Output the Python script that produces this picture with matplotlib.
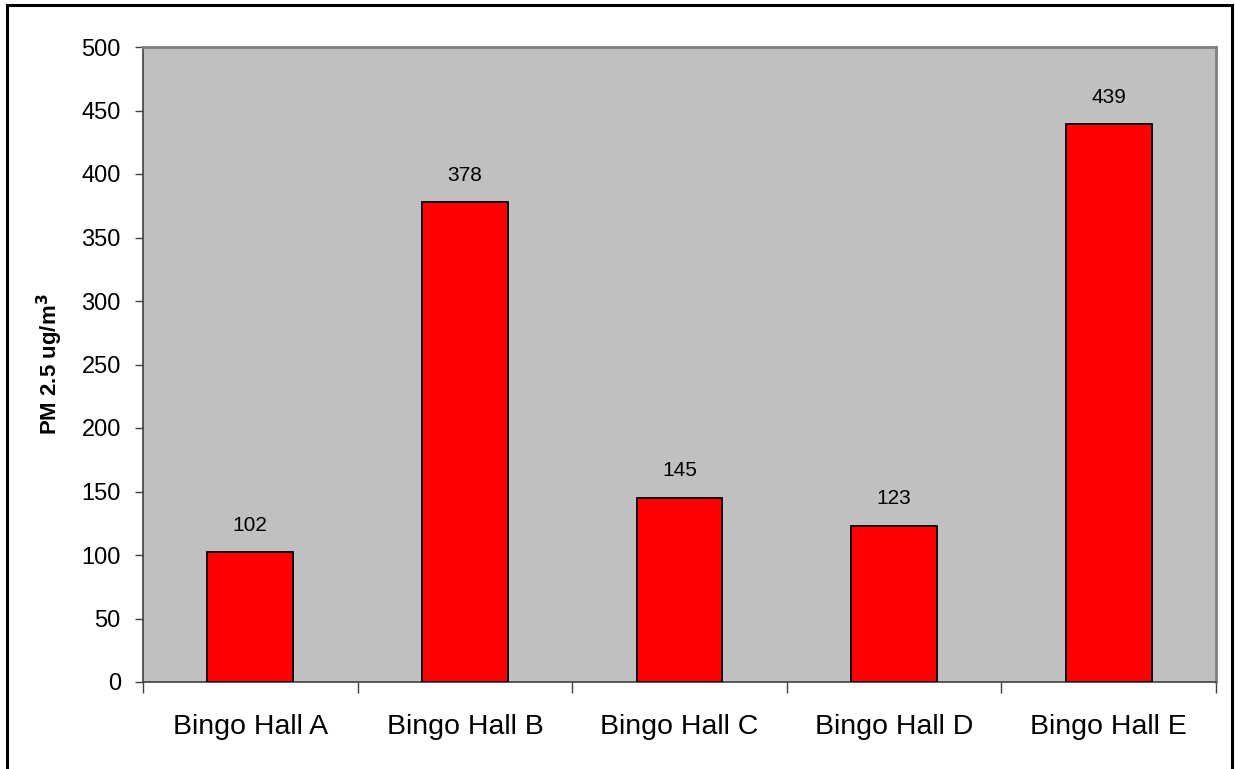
import matplotlib
matplotlib.use("Agg")
import matplotlib.pyplot as plt
from matplotlib.patches import Rectangle

categories = ["Bingo Hall A", "Bingo Hall B", "Bingo Hall C", "Bingo Hall D", "Bingo Hall E"]
values = [102, 378, 145, 123, 439]
yticks = [0, 50, 100, 150, 200, 250, 300, 350, 400, 450, 500]

plt.rcParams['font.family'] = ['Liberation Sans', 'DejaVu Sans']

W, H = 1235, 769
fig = plt.figure(figsize=(W / 100, H / 100), dpi=100)
ax = fig.add_axes([143 / W, 1 - 682 / H, (1216 - 143) / W, (682 - 47) / H])
ax.set_facecolor('#C0C0C0')

x = list(range(len(categories)))
bars = ax.bar(x, values, width=0.4, color='#FF0000', edgecolor='black', linewidth=1.3, zorder=3)
for xi, v in zip(x, values):
    ax.annotate(str(v), (xi, v), xytext=(0, 12.5), textcoords='offset points',
                ha='center', va='bottom', fontsize=15)

ax.set_xlim(-0.5, len(categories) - 0.5)
ax.set_ylim(0, 500)
ax.set_yticks(yticks)
ax.set_yticklabels([str(t) for t in yticks], fontsize=17)
ax.tick_params(axis='y', length=6, width=1, color='#404040', pad=10)

ax.set_xticks([i + 0.5 for i in range(-1, len(categories))])
ax.set_xticklabels([])
ax.tick_params(axis='x', length=8, width=1, color='#404040')
ax.set_xticks(x, minor=True)
ax.set_xticklabels(categories, minor=True, fontsize=20.5)
ax.tick_params(axis='x', which='minor', length=0, pad=23)

for s in ['left', 'bottom']:
    ax.spines[s].set_color('#404040')
    ax.spines[s].set_linewidth(1.2)
for s in ['top', 'right']:
    ax.spines[s].set_color('#808080')
    ax.spines[s].set_linewidth(2)

ax.set_ylabel(r'PM 2.5 ug/m$^\mathbf{3}$', fontsize=16, fontweight='bold', labelpad=12)

fig.patches.append(Rectangle((7 / W, -0.01), (1232 - 7) / W, 1 - 5 / H + 0.01,
                             transform=fig.transFigure, fill=False,
                             edgecolor='black', linewidth=2.2))

fig.savefig('out.png', dpi=100, facecolor='white')
